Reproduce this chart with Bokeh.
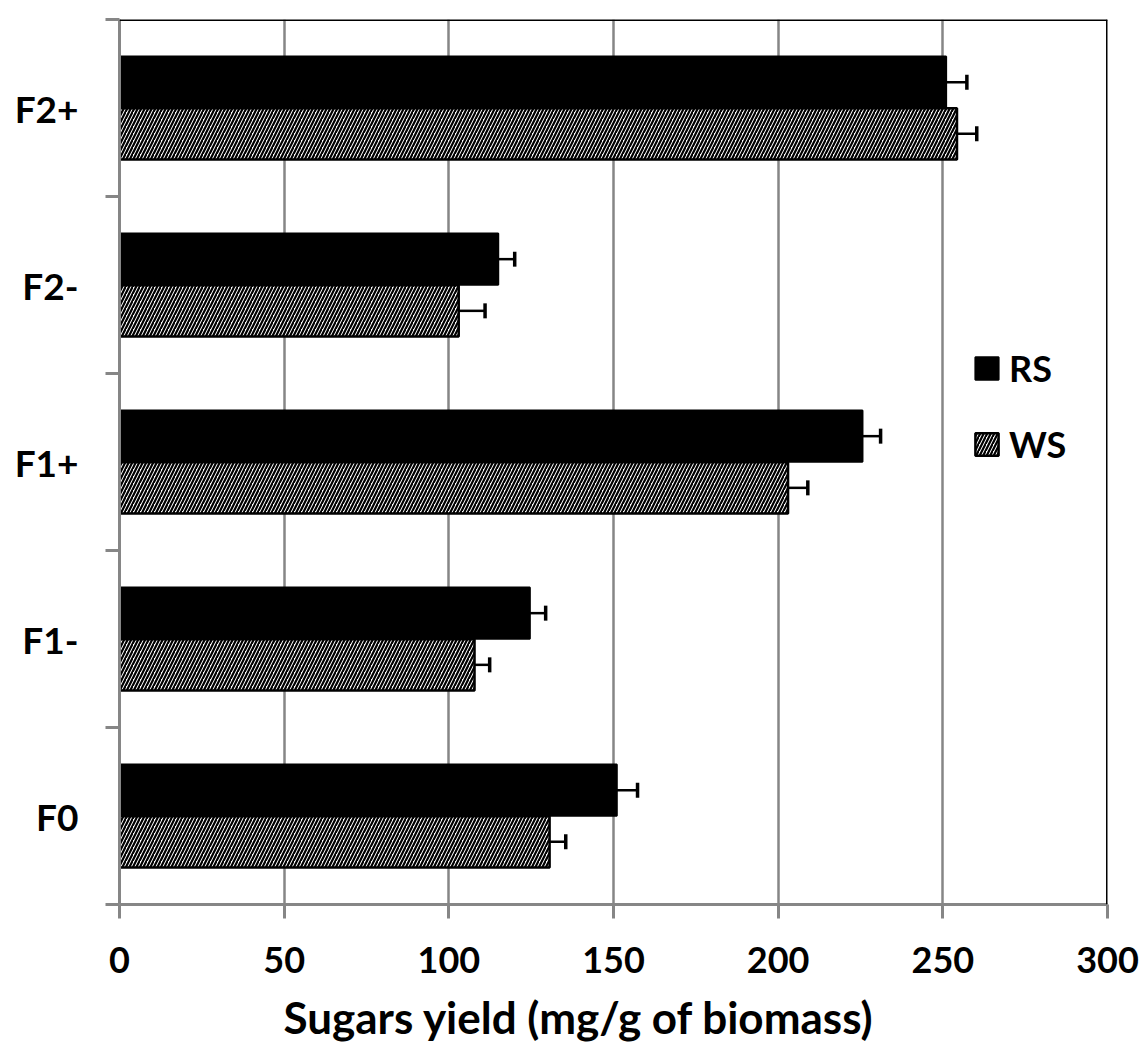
from bokeh.plotting import figure
from bokeh.models import (ColumnDataSource, FixedTicker, Span, Whisker, TeeHead,
                          Legend, LegendItem, Title, Range1d)
from bokeh.embed import file_html
from bokeh.resources import INLINE

categories = ["F0", "F1-", "F1+", "F2-", "F2+"]
rs_values = [151, 124.6, 225.6, 115, 251]
rs_errors = [6.3, 4.8, 5.5, 5, 6.3]
ws_values = [130.6, 107.8, 203, 103, 254.3]
ws_errors = [4.9, 4.6, 6, 8, 6]
x_ticks = [0, 50, 100, 150, 200, 250, 300]

FONT = "Lato"
GRAY = "#868686"

centers = [i + 0.5 for i in range(len(categories))]
bar_h = 0.29
off = 0.146

rs_src = ColumnDataSource(dict(
    y=[c + off for c in centers], v=rs_values,
    hi=[v + e for v, e in zip(rs_values, rs_errors)]))
ws_src = ColumnDataSource(dict(
    y=[c - off for c in centers], v=ws_values,
    hi=[v + e for v, e in zip(ws_values, ws_errors)]))

W, H = 1140, 1056
LEFT, TOP, FW, FH = 119, 19, 988, 885
p = figure(width=W, height=H, output_backend="svg", toolbar_location=None,
           x_range=Range1d(0, 300), y_range=Range1d(0, len(categories)),
           min_border_left=LEFT, min_border_right=W - LEFT - FW,
           min_border_top=TOP, min_border_bottom=H - TOP - FH)
p.outline_line_color = None
p.background_fill_color = "white"

rs = p.hbar(y="y", left=0, right="v", height=bar_h, source=rs_src,
            fill_color="black", line_color="black", line_width=2)
ws = p.hbar(y="y", left=0, right="v", height=bar_h, source=ws_src,
            fill_color="white", line_color="black", line_width=2.5,
            hatch_pattern="/", hatch_color="black", hatch_scale=7, hatch_weight=2.2)

for src in (rs_src, ws_src):
    w = Whisker(source=src, base="y", lower="v", upper="hi", dimension="width",
                line_color="black", line_width=2.5, lower_head=None,
                upper_head=TeeHead(size=15, line_color="black", line_width=3.5))
    p.add_layout(w)

# grid
p.ygrid.grid_line_color = None
p.xgrid.ticker = FixedTicker(ticks=x_ticks)
p.xgrid.grid_line_color = GRAY
p.xgrid.grid_line_width = 2.5

# x axis
p.xaxis.ticker = FixedTicker(ticks=x_ticks)
p.xaxis.axis_line_color = GRAY
p.xaxis.axis_line_width = 3
p.xaxis.major_tick_line_color = GRAY
p.xaxis.major_tick_line_width = 3
p.xaxis.major_tick_out = 14
p.xaxis.major_tick_in = 0
p.xaxis.minor_tick_line_color = None
p.xaxis.major_label_text_font = FONT
p.xaxis.major_label_text_font_style = "bold"
p.xaxis.major_label_text_font_size = "36px"
p.xaxis.major_label_text_color = "black"
p.xaxis.major_label_standoff = 28

# y axis: labels at centers, ticks at boundaries
p.yaxis.ticker = FixedTicker(ticks=centers,
                             minor_ticks=list(range(len(categories) + 1)))
p.yaxis.major_label_overrides = {c: lab for c, lab in zip(centers, categories)}
p.yaxis.axis_line_color = GRAY
p.yaxis.axis_line_width = 3
p.yaxis.major_tick_line_color = None
p.yaxis.major_tick_out = 0
p.yaxis.major_tick_in = 0
p.yaxis.minor_tick_line_color = GRAY
p.yaxis.minor_tick_line_width = 3
p.yaxis.minor_tick_out = 14
p.yaxis.minor_tick_in = 0
p.yaxis.major_label_text_font = FONT
p.yaxis.major_label_text_font_style = "bold"
p.yaxis.major_label_text_font_size = "37px"
p.yaxis.major_label_text_color = "black"
p.yaxis.major_label_standoff = 27

# top and right borders
p.add_layout(Span(location=300, dimension="height", line_color="black", line_width=3))
p.add_layout(Span(location=len(categories), dimension="width", line_color="black", line_width=3))

# x axis title, left-shifted as in the original
t = Title(text="Sugars yield (mg/g of biomass)", align="left", offset=164,
          text_font=FONT, text_font_style="bold", text_font_size="44px",
          text_color="black", standoff=27)
p.add_layout(t, "below")

legend = Legend(items=[LegendItem(label="RS", renderers=[rs]),
                       LegendItem(label="WS", renderers=[ws])],
                location=(853, 438), orientation="vertical",
                label_text_font=FONT, label_text_font_style="bold",
                label_text_font_size="36px", label_text_color="black",
                glyph_width=29, glyph_height=28, spacing=32, padding=0,
                margin=0, label_standoff=8,
                border_line_color=None, background_fill_alpha=0)
p.add_layout(legend)

open("out.html", "w").write(file_html(p, INLINE))
